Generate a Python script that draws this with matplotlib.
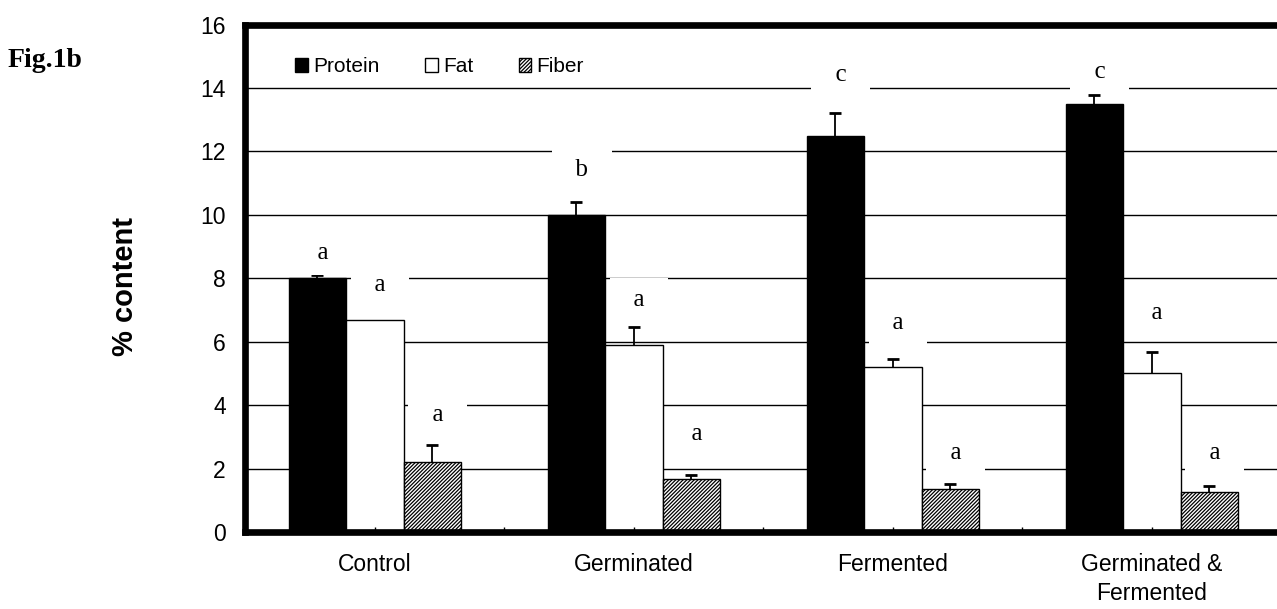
import numpy as np
import matplotlib
matplotlib.use("Agg")
import matplotlib.pyplot as plt

# values
groups = ["Control", "Germinated", "Fermented", "Germinated &\nFermented"]
protein = [8.0, 10.0, 12.5, 13.5]
protein_err = [0.1, 0.4, 0.7, 0.27]
fat = [6.7, 5.9, 5.2, 5.0]
fat_err = [0.0, 0.57, 0.26, 0.67]
fiber = [2.2, 1.67, 1.36, 1.27]
fiber_err = [0.54, 0.14, 0.16, 0.18]

# significance letters and the height they sit at
protein_letters = ["a", "b", "c", "c"]
fat_letters = ["a", "a", "a", "a"]
fiber_letters = ["a", "a", "a", "a"]
protein_letter_y = [8.8, 11.4, 14.4, 14.5]
fat_letter_y = [7.8, 7.3, 6.6, 6.9]
fiber_letter_y = [3.7, 3.1, 2.5, 2.5]

sans = "Liberation Sans"
serif = "Liberation Serif"
plt.rcParams["font.family"] = sans
plt.rcParams["hatch.linewidth"] = 0.9

fig = plt.figure(figsize=(12.77, 6.09), dpi=100)
ax = fig.add_axes([0.1922, 0.1264, 0.8113, 0.8333])
ax.set_axisbelow(False)

x = np.arange(len(groups)) * 2.0
w = 0.444

ax.set_xlim(-1, 7)
ax.set_ylim(0, 16)
yt = np.arange(0, 17, 2)
ax.set_yticks(yt)
# grid drawn by hand so the bottom ticks can sit above the bars
ax.hlines(yt[1:-1], -1, 7, color="black", linewidth=1.0, zorder=1)

series = [
    ("Protein", protein, protein_err, protein_letters, protein_letter_y, -w,
     dict(color="black", edgecolor="black")),
    ("Fat", fat, fat_err, fat_letters, fat_letter_y, 0.0,
     dict(color="white", edgecolor="black")),
    ("Fiber", fiber, fiber_err, fiber_letters, fiber_letter_y, w,
     dict(color="white", edgecolor="black", hatch="/////////")),
]

for name, vals, errs, letters, ly, off, style in series:
    ax.bar(x + off, vals, width=w, linewidth=1.0, label=name, zorder=2, **style)
    vals = np.array(vals)
    errs = np.array(errs)
    m = errs > 0
    eb = ax.errorbar((x + off)[m], vals[m], yerr=[np.zeros(m.sum()), errs[m]], fmt="none",
                     ecolor="black", elinewidth=1.3, capsize=4, capthick=2, zorder=3)
    eb[1][0].set_visible(False)
    for xi, yi, t in zip(x + off, ly, letters):
        ax.text(xi + 0.04, yi, "  " + t + "  ", ha="center", va="center",
                family=serif, fontsize=18, zorder=5,
                bbox=dict(boxstyle="square,pad=0.45", fc="white", ec="none"))

ax.set_xticks(x)
ax.set_xticklabels(groups)
ax.set_xticks([1, 3, 5], minor=True)
for lbl in ax.get_xticklabels():
    lbl.set_linespacing(1.35)

ax.tick_params(axis="y", length=0, pad=14, labelsize=16.5)
ax.tick_params(axis="x", which="both", direction="in", length=3.5, width=1,
               pad=15, labelsize=16.5)

for s in ax.spines.values():
    s.set_linewidth(4.8)
    s.set_zorder(4)

ax.set_ylabel("% content", fontsize=21, fontweight="bold")
ax.yaxis.set_label_coords(-0.103, 0.483)

ax.legend(loc="center left", bbox_to_anchor=(0.048, 0.917), ncol=3, frameon=False,
          fontsize=15, handlelength=0.6, handleheight=0.7, handletextpad=0.25,
          columnspacing=2.2, borderpad=0, borderaxespad=0)

fig.text(8 / 1277, 1 - 67 / 609, "Fig.1b", family=serif, fontweight="bold",
         fontsize=20, ha="left", va="baseline")

fig.savefig("out.png", dpi=100)
